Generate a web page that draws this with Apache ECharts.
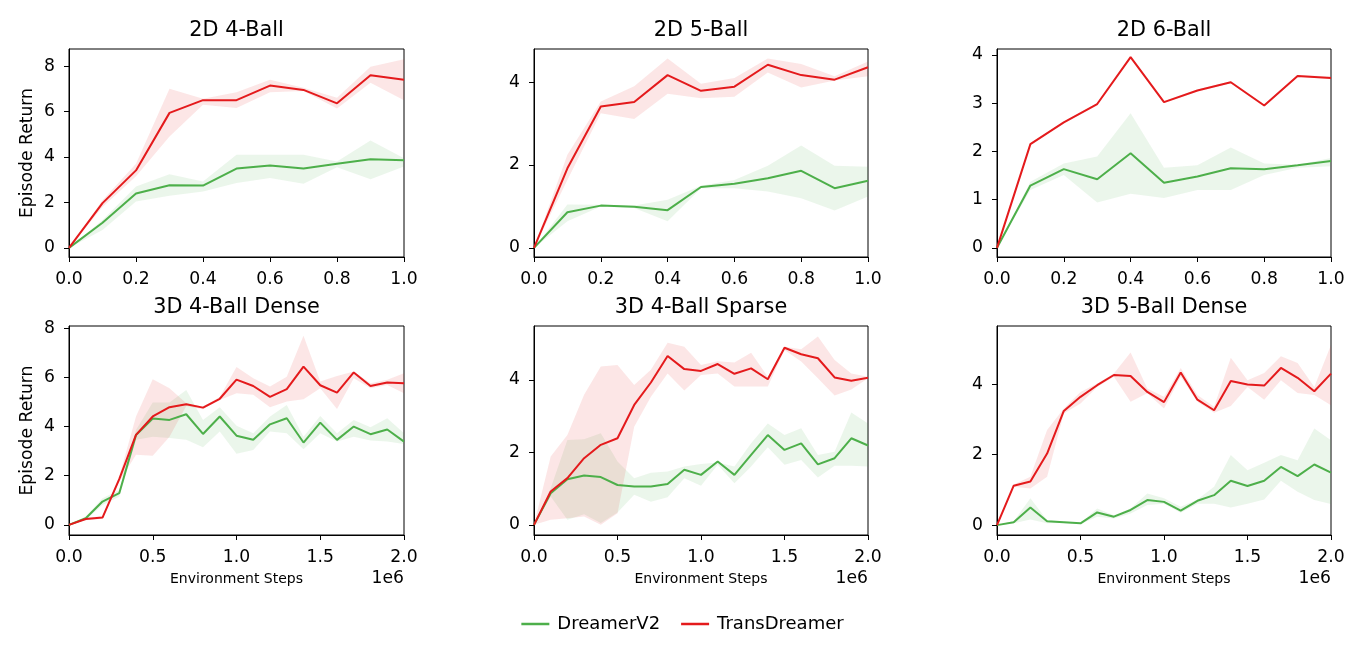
<!DOCTYPE html>
<html>
<head>
<meta charset="utf-8">
<script src="https://cdn.jsdelivr.net/npm/echarts@6/dist/echarts.min.js"></script>
<style>
html,body{margin:0;padding:0;background:#fff;}
#chart{width:1365px;height:650px;}
</style>
</head>
<body>
<div id="chart"></div>
<script>
// ---------------- DATA ----------------
const seriesNames = ['DreamerV2', 'TransDreamer'];
const titles = ['2D 4-Ball', '2D 5-Ball', '2D 6-Ball', '3D 4-Ball Dense', '3D 4-Ball Sparse', '3D 5-Ball Dense'];

const xTop = [0, 0.1, 0.2, 0.3, 0.4, 0.5, 0.6, 0.7, 0.8, 0.9, 1.0];
const xBottom = [0, 0.1, 0.2, 0.3, 0.4, 0.5, 0.6, 0.7, 0.8, 0.9, 1.0, 1.1, 1.2, 1.3, 1.4, 1.5, 1.6, 1.7, 1.8, 1.9, 2.0];
const xTicksTop = [0, 0.2, 0.4, 0.6, 0.8, 1.0];
const xTicksBottom = [0, 0.5, 1.0, 1.5, 2.0];
const yTicksA = [0, 2, 4, 6, 8];
const yTicksB = [0, 2, 4];
const yTicksC = [0, 1, 2, 3, 4];
const yTicksD = [0, 2, 4, 6, 8];
const yTicksE = [0, 2, 4];
const yTicksF = [0, 2, 4];

// 2D 4-Ball
const A_dv    = [0, 1.11, 2.39, 2.76, 2.74, 3.49, 3.62, 3.49, 3.70, 3.90, 3.86];
const A_dv_lo = [0, 0.79, 2.04, 2.29, 2.48, 2.85, 3.07, 2.82, 3.55, 3.02, 3.58];
const A_dv_hi = [0, 1.23, 2.70, 3.24, 2.92, 4.10, 4.10, 4.10, 3.80, 4.72, 3.94];
const A_td    = [0, 1.97, 3.41, 5.94, 6.50, 6.50, 7.14, 6.95, 6.36, 7.60, 7.40];
const A_td_lo = [0, 1.80, 3.15, 4.90, 6.30, 6.16, 6.85, 6.90, 6.13, 7.26, 6.50];
const A_td_hi = [0, 2.10, 3.70, 7.00, 6.56, 6.85, 7.40, 7.04, 6.60, 7.97, 8.30];

// 2D 5-Ball
const B_dv    = [0, 0.86, 1.02, 0.99, 0.91, 1.47, 1.55, 1.68, 1.86, 1.44, 1.62];
const B_dv_lo = [0, 0.64, 1.00, 0.96, 0.64, 1.44, 1.44, 1.36, 1.20, 0.90, 1.24];
const B_dv_hi = [0, 1.05, 1.04, 1.02, 1.16, 1.50, 1.64, 1.98, 2.47, 1.98, 1.96];
const B_td    = [0, 1.92, 3.41, 3.52, 4.17, 3.79, 3.89, 4.42, 4.17, 4.06, 4.36];
const B_td_lo = [0, 1.64, 3.25, 3.11, 3.72, 3.61, 3.65, 4.23, 3.87, 4.04, 4.14];
const B_td_hi = [0, 2.25, 3.53, 3.90, 4.57, 3.96, 4.10, 4.57, 4.44, 4.14, 4.50];

// 2D 6-Ball
const C_dv    = [0, 1.29, 1.63, 1.42, 1.96, 1.35, 1.48, 1.65, 1.63, 1.71, 1.80];
const C_dv_lo = [0, 1.20, 1.51, 0.94, 1.12, 1.03, 1.20, 1.20, 1.51, 1.66, 1.69];
const C_dv_hi = [0, 1.37, 1.75, 1.89, 2.79, 1.66, 1.71, 2.08, 1.75, 1.72, 1.86];
const C_td    = [0, 2.15, 2.60, 2.98, 3.95, 3.02, 3.26, 3.43, 2.95, 3.56, 3.52];
const C_td_lo = [0, 2.13, 2.58, 2.96, 3.93, 3.00, 3.24, 3.41, 2.93, 3.54, 3.50];
const C_td_hi = [0, 2.17, 2.62, 3.00, 3.97, 3.04, 3.28, 3.45, 2.97, 3.58, 3.55];

// 3D 4-Ball Dense
const D_dv    = [0, 0.27, 0.95, 1.29, 3.66, 4.33, 4.27, 4.50, 3.70, 4.41, 3.63, 3.46, 4.09, 4.34, 3.35, 4.16, 3.46, 4.00, 3.69, 3.88, 3.39];
const D_dv_lo = [0, 0.20, 0.81, 1.15, 3.46, 3.59, 3.53, 3.46, 3.16, 3.80, 2.89, 3.05, 3.80, 3.73, 3.08, 3.73, 3.39, 3.59, 3.43, 3.39, 3.29];
const D_dv_hi = [0, 0.34, 1.08, 1.42, 3.86, 4.98, 4.98, 5.49, 4.27, 4.79, 4.03, 3.73, 4.41, 4.88, 3.59, 4.43, 3.73, 4.27, 3.97, 4.34, 3.73];
const D_td    = [0, 0.24, 0.30, 1.86, 3.66, 4.41, 4.79, 4.91, 4.77, 5.13, 5.91, 5.65, 5.21, 5.52, 6.44, 5.68, 5.38, 6.20, 5.65, 5.79, 5.76];
const D_td_lo = [0, 0.19, 0.25, 1.76, 2.85, 2.81, 3.59, 4.84, 4.70, 5.08, 5.36, 5.29, 4.79, 5.02, 5.11, 5.56, 4.71, 5.97, 5.56, 5.69, 5.36];
const D_td_hi = [0, 0.29, 0.35, 1.96, 4.41, 5.92, 5.56, 4.95, 4.81, 5.20, 6.42, 5.97, 5.63, 6.03, 7.69, 5.83, 6.06, 6.24, 5.76, 5.90, 6.17];

// 3D 4-Ball Sparse
const E_dv    = [0, 0.87, 1.26, 1.36, 1.32, 1.10, 1.06, 1.06, 1.13, 1.52, 1.38, 1.75, 1.38, 1.93, 2.48, 2.07, 2.25, 1.67, 1.84, 2.39, 2.19];
const E_dv_lo = [0, 0.78, 0.14, 0.29, 0.05, 0.34, 0.83, 0.64, 0.76, 1.29, 1.08, 1.66, 1.15, 1.61, 2.14, 1.66, 1.79, 1.31, 1.63, 1.63, 1.61];
const E_dv_hi = [0, 1.01, 2.34, 2.36, 2.53, 1.75, 1.29, 1.44, 1.47, 1.61, 1.68, 1.72, 1.61, 2.25, 2.80, 2.48, 2.67, 1.93, 2.02, 3.10, 2.80];
const E_td    = [0, 0.92, 1.29, 1.84, 2.21, 2.39, 3.31, 3.93, 4.66, 4.30, 4.25, 4.44, 4.17, 4.32, 4.02, 4.89, 4.71, 4.60, 4.07, 3.98, 4.06];
const E_td_lo = [0, 0.14, 0.18, 0.23, 0.00, 0.32, 2.71, 3.54, 4.18, 3.71, 4.14, 4.18, 3.82, 3.82, 3.82, 4.83, 4.51, 4.05, 3.57, 3.74, 4.05];
const E_td_hi = [0, 1.89, 2.48, 3.59, 4.37, 4.41, 3.86, 4.28, 5.03, 4.92, 4.41, 4.52, 4.48, 4.75, 4.09, 4.92, 4.85, 5.20, 4.55, 4.18, 4.09];

// 3D 5-Ball Dense
const F_dv    = [0, 0.08, 0.50, 0.11, 0.08, 0.05, 0.36, 0.24, 0.43, 0.71, 0.66, 0.41, 0.69, 0.85, 1.26, 1.11, 1.26, 1.65, 1.39, 1.72, 1.49];
const F_dv_lo = [0, 0.05, 0.16, 0.05, 0.06, 0.03, 0.24, 0.19, 0.33, 0.57, 0.61, 0.35, 0.61, 0.61, 0.50, 0.61, 0.73, 1.26, 0.95, 0.71, 0.60];
const F_dv_hi = [0, 0.11, 0.76, 0.14, 0.10, 0.07, 0.47, 0.28, 0.47, 0.90, 0.76, 0.52, 0.73, 1.09, 1.99, 1.56, 1.77, 1.99, 1.84, 2.74, 2.41];
const F_td    = [0, 1.12, 1.24, 2.03, 3.24, 3.64, 3.97, 4.26, 4.23, 3.78, 3.49, 4.33, 3.56, 3.26, 4.09, 3.99, 3.96, 4.46, 4.18, 3.80, 4.30];
const F_td_lo = [0, 1.09, 1.04, 1.37, 3.17, 3.45, 3.92, 4.21, 3.50, 3.74, 3.31, 4.21, 3.50, 3.19, 3.38, 3.92, 3.56, 4.11, 3.75, 3.69, 3.40];
const F_td_hi = [0, 1.15, 1.37, 2.70, 3.31, 3.78, 4.02, 4.30, 4.90, 3.88, 3.64, 4.46, 3.69, 3.36, 4.75, 4.11, 4.32, 4.79, 4.60, 3.92, 5.11];

// ---------------- LAYOUT / STYLE ----------------
const FONT = 'DejaVu Sans';
const FS_TICK = 17.2, FS_TITLE = 20.8, FS_SMALL = 14, FS_LEGEND = 18;
const GREEN = '#4daf4a', RED = '#e41a1c';
const GREEN_BAND = 'rgba(77,175,74,0.11)', RED_BAND = 'rgba(228,26,28,0.11)';

const panels = [
  {x: xTop, xt: xTicksTop, xmax: 1.0, yt: yTicksA, ymin: -0.4, ymax: 8.75, dv: [A_dv, A_dv_lo, A_dv_hi], td: [A_td, A_td_lo, A_td_hi], g: {left: 69, top: 49, width: 335, height: 208}},
  {x: xTop, xt: xTicksTop, xmax: 1.0, yt: yTicksB, ymin: -0.22, ymax: 4.8, dv: [B_dv, B_dv_lo, B_dv_hi], td: [B_td, B_td_lo, B_td_hi], g: {left: 534, top: 49, width: 334, height: 208}},
  {x: xTop, xt: xTicksTop, xmax: 1.0, yt: yTicksC, ymin: -0.19, ymax: 4.12, dv: [C_dv, C_dv_lo, C_dv_hi], td: [C_td, C_td_lo, C_td_hi], g: {left: 997, top: 49, width: 334, height: 208}},
  {x: xBottom, xt: xTicksBottom, xmax: 2.0, yt: yTicksD, ymin: -0.41, ymax: 8.09, dv: [D_dv, D_dv_lo, D_dv_hi], td: [D_td, D_td_lo, D_td_hi], g: {left: 69, top: 326, width: 335, height: 209}},
  {x: xBottom, xt: xTicksBottom, xmax: 2.0, yt: yTicksE, ymin: -0.28, ymax: 5.49, dv: [E_dv, E_dv_lo, E_dv_hi], td: [E_td, E_td_lo, E_td_hi], g: {left: 534, top: 326, width: 334, height: 209}},
  {x: xBottom, xt: xTicksBottom, xmax: 2.0, yt: yTicksF, ymin: -0.28, ymax: 5.65, dv: [F_dv, F_dv_lo, F_dv_hi], td: [F_td, F_td_lo, F_td_hi], g: {left: 997, top: 326, width: 334, height: 209}}
];

function bandRenderer(color) {
  return function (params, api) {
    if (params.dataIndexInside !== 0) return null;
    const n = params.dataInsideLength;
    const up = [], lo = [];
    for (let i = 0; i < n; i++) {
      const xv = api.value(0, i);
      up.push(api.coord([xv, api.value(2, i)]));
      lo.push(api.coord([xv, api.value(1, i)]));
    }
    return {type: 'polygon', silent: true, shape: {points: up.concat(lo.reverse())}, style: {fill: color}};
  };
}

const grid = [], xAxis = [], yAxis = [], series = [], graphic = [];
const tickLabel = {fontFamily: FONT, fontSize: FS_TICK, color: '#000'};

panels.forEach(function (p, i) {
  grid.push(Object.assign({show: true, borderColor: '#000', borderWidth: 1, backgroundColor: 'transparent', containLabel: false}, p.g));
  xAxis.push({
    type: 'value', gridIndex: i, min: 0, max: p.xmax,
    axisLine: {show: true, onZero: false, lineStyle: {color: '#000', width: 1}},
    axisTick: {show: true, length: 5, lineStyle: {color: '#000', width: 1}, customValues: p.xt},
    axisLabel: Object.assign({margin: 14, customValues: p.xt, formatter: function (v) { return Number(v).toFixed(1); }}, tickLabel),
    splitLine: {show: false}
  });
  yAxis.push({
    type: 'value', gridIndex: i, min: p.ymin, max: p.ymax,
    axisLine: {show: true, onZero: false, lineStyle: {color: '#000', width: 1}},
    axisTick: {show: true, length: 5, lineStyle: {color: '#000', width: 1}, customValues: p.yt},
    axisLabel: Object.assign({margin: 14, customValues: p.yt, formatter: function (v) { return String(Math.round(v)); }}, tickLabel),
    splitLine: {show: false}
  });
  const mk = function (arr) { return p.x.map(function (xv, k) { return [xv, arr[k]]; }); };
  const mkBand = function (lo, hi) { return p.x.map(function (xv, k) { return [xv, lo[k], hi[k]]; }); };
  series.push({type: 'custom', name: 'DreamerV2 band', xAxisIndex: i, yAxisIndex: i, z: 1, silent: true,
    renderItem: bandRenderer(GREEN_BAND), encode: {x: 0, y: [1, 2]}, data: mkBand(p.dv[1], p.dv[2])});
  series.push({type: 'line', name: 'DreamerV2', xAxisIndex: i, yAxisIndex: i, z: 3, symbol: 'none', showSymbol: false,
    lineStyle: {color: GREEN, width: 2}, itemStyle: {color: GREEN}, data: mk(p.dv[0])});
  series.push({type: 'custom', name: 'TransDreamer band', xAxisIndex: i, yAxisIndex: i, z: 2, silent: true,
    renderItem: bandRenderer(RED_BAND), encode: {x: 0, y: [1, 2]}, data: mkBand(p.td[1], p.td[2])});
  series.push({type: 'line', name: 'TransDreamer', xAxisIndex: i, yAxisIndex: i, z: 4, symbol: 'none', showSymbol: false,
    lineStyle: {color: RED, width: 2}, itemStyle: {color: RED}, data: mk(p.td[0])});

  const cx = p.g.left + p.g.width / 2;
  graphic.push({type: 'text', x: cx, y: p.g.top - 18, style: {text: titles[i], fontFamily: FONT, fontSize: FS_TITLE, fill: '#000', align: 'center', verticalAlign: 'middle'}});
  if (i >= 3) {
    graphic.push({type: 'text', x: cx, y: 579, style: {text: 'Environment Steps', fontFamily: FONT, fontSize: FS_SMALL, fill: '#000', align: 'center', verticalAlign: 'middle'}});
    graphic.push({type: 'text', x: p.g.left + p.g.width, y: 579, style: {text: '1e6', fontFamily: FONT, fontSize: FS_TICK, fill: '#000', align: 'right', verticalAlign: 'middle'}});
  }
  if (i === 0 || i === 3) {
    graphic.push({type: 'text', x: 28, y: p.g.top + p.g.height / 2, rotation: Math.PI / 2,
      style: {text: 'Episode Return', fontFamily: FONT, fontSize: FS_TICK, fill: '#000', align: 'center', verticalAlign: 'middle'}});
  }
});

const chart = echarts.init(document.getElementById('chart'), null, {renderer: 'canvas'});
chart.setOption({
  animation: false,
  backgroundColor: '#fff',
  grid: grid, xAxis: xAxis, yAxis: yAxis, series: series, graphic: graphic,
  legend: {
    data: seriesNames, left: 'center', top: 610, icon: 'rect', itemWidth: 28, itemHeight: 2.5, itemGap: 21,
    textStyle: {fontFamily: FONT, fontSize: FS_LEGEND, color: '#000', padding: [0, 0, 0, 3]}
  }
});
</script>
</body>
</html>
